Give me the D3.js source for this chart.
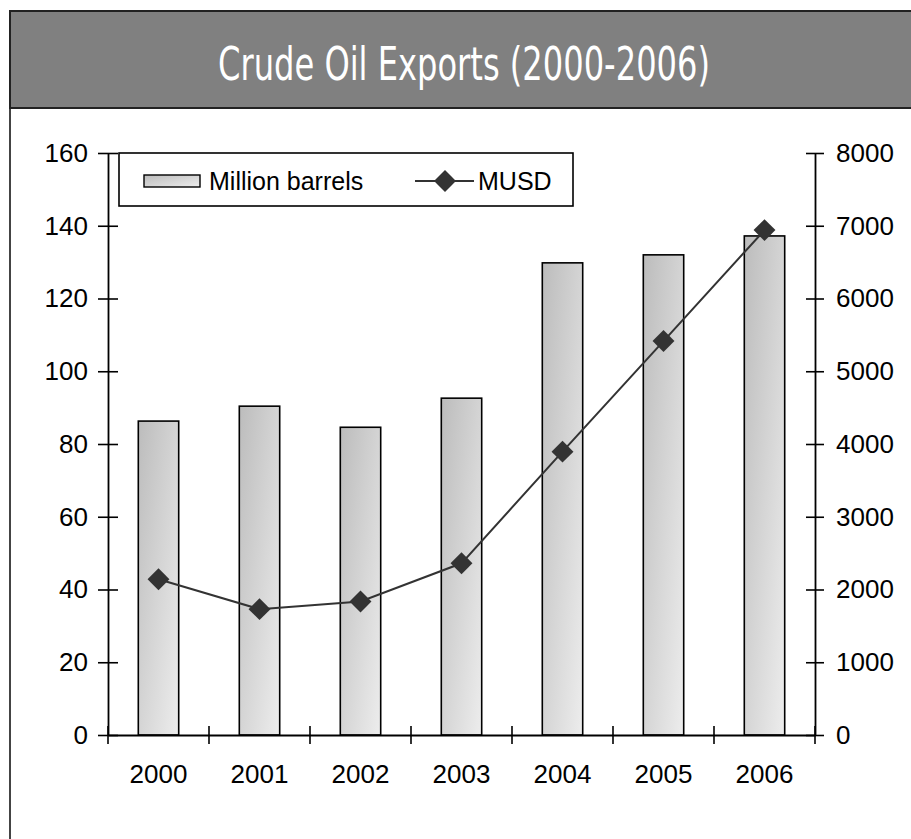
<!DOCTYPE html>
<html>
<head>
<meta charset="utf-8">
<script src="https://cdn.jsdelivr.net/npm/d3@7"></script>
<style>
  body { margin: 0; background: #fff; }
  text { font-family: "Liberation Sans", Arial, sans-serif; }
</style>
</head>
<body>
<div id="chart"></div>
<script>
// data
const years = ["2000", "2001", "2002", "2003", "2004", "2005", "2006"];
const barrels = [86.3, 90.4, 84.6, 92.6, 129.8, 132.0, 137.2];   // Million barrels, left axis
const musd = [2140, 1730, 1835, 2360, 3895, 5415, 6940];         // MUSD, right axis
const leftTicks = [0, 20, 40, 60, 80, 100, 120, 140, 160];
const rightTicks = [0, 1000, 2000, 3000, 4000, 5000, 6000, 7000, 8000];

const W = 911, H = 839;
const plot = {left: 108, right: 815, top: 153, bottom: 735};

const svg = d3.select("#chart").append("svg")
  .attr("width", W).attr("height", H);

// bar gradient
const defs = svg.append("defs");
const grad = defs.append("linearGradient").attr("id", "barGrad")
  .attr("x1", 0).attr("y1", 0).attr("x2", 1).attr("y2", 1);
grad.append("stop").attr("offset", 0).attr("stop-color", "#bcbcbc");
grad.append("stop").attr("offset", 1).attr("stop-color", "#ededed");

// frame + title bar
svg.append("rect")
  .attr("x", 10).attr("y", 11).attr("width", 930).attr("height", 860)
  .attr("fill", "#fff").attr("stroke", "#444").attr("stroke-width", 2);
svg.append("rect")
  .attr("x", 10).attr("y", 11).attr("width", 930).attr("height", 97)
  .attr("fill", "#808080").attr("stroke", "#222").attr("stroke-width", 2);
svg.append("text")
  .attr("x", 464).attr("y", 80)
  .attr("text-anchor", "middle")
  .attr("fill", "#fff")
  .style("font-family", "'Liberation Sans Narrow', 'Arial Narrow', 'DejaVu Sans Condensed', sans-serif")
  .style("font-stretch", "condensed")
  .style("font-size", "47px")
  .attr("textLength", 492).attr("lengthAdjust", "spacingAndGlyphs")
  .text("Crude Oil Exports (2000-2006)");

// scales
const x = d3.scaleBand().domain(years).range([plot.left, plot.right]);
const yL = d3.scaleLinear().domain([0, 160]).range([plot.bottom, plot.top]);
const yR = d3.scaleLinear().domain([0, 8000]).range([plot.bottom, plot.top]);
const barW = x.bandwidth() * 0.4;

// bars
svg.append("g").selectAll("rect")
  .data(years)
  .join("rect")
  .attr("x", d => x(d) + (x.bandwidth() - barW) / 2)
  .attr("y", (d, i) => yL(barrels[i]))
  .attr("width", barW)
  .attr("height", (d, i) => yL(0) - yL(barrels[i]))
  .attr("fill", "url(#barGrad)")
  .attr("stroke", "#000").attr("stroke-width", 1.6);

// axes
const fontSize = "26px";
const gL = svg.append("g").attr("transform", `translate(${plot.left},0)`)
  .call(d3.axisLeft(yL).tickValues(leftTicks).tickSizeInner(10).tickSizeOuter(0).tickPadding(10));
gL.selectAll(".tick line").attr("x1", 10);

const gR = svg.append("g").attr("transform", `translate(${plot.right},0)`)
  .call(d3.axisRight(yR).tickValues(rightTicks).tickFormat(d3.format("d"))
    .tickSizeInner(9).tickSizeOuter(0).tickPadding(12));
gR.selectAll(".tick line").attr("x1", -9);

// x axis with ticks between categories
const gX = svg.append("g").attr("transform", `translate(0,${plot.bottom})`)
  .call(d3.axisBottom(x).tickSize(0).tickSizeOuter(0).tickPadding(30));
gX.selectAll(".tick")
  .append("line")
  .attr("x1", -x.bandwidth() / 2).attr("x2", -x.bandwidth() / 2)
  .attr("y1", -9).attr("y2", 9)
  .attr("stroke", "#000").attr("stroke-width", 1.6);
gX.append("line")
  .attr("x1", plot.right).attr("x2", plot.right)
  .attr("y1", -9).attr("y2", 9)
  .attr("stroke", "#000").attr("stroke-width", 1.6);

[gL, gR, gX].forEach(g => {
  g.selectAll("path.domain").attr("stroke", "#000").attr("stroke-width", 1.8);
  g.selectAll(".tick line").attr("stroke", "#000").attr("stroke-width", 1.6);
  g.selectAll("text").style("font-size", fontSize)
    .style("font-family", "'Liberation Sans', Arial, sans-serif").attr("fill", "#000");
});

// MUSD line with diamond markers
const cx = d => x(d) + x.bandwidth() / 2;
const line = d3.line().x(d => cx(d)).y((d, i) => yR(musd[i]));
svg.append("path")
  .datum(years)
  .attr("d", line)
  .attr("fill", "none").attr("stroke", "#333").attr("stroke-width", 2);

const diamond = d3.symbol().type(d3.symbolSquare).size(240);
svg.append("g").selectAll("path")
  .data(years)
  .join("path")
  .attr("d", diamond)
  .attr("transform", (d, i) => `translate(${cx(d)},${yR(musd[i])}) rotate(45)`)
  .attr("fill", "#333");

// legend
const lg = svg.append("g");
lg.append("rect")
  .attr("x", 119).attr("y", 153).attr("width", 454).attr("height", 53)
  .attr("fill", "#fff").attr("stroke", "#000").attr("stroke-width", 1.6);
lg.append("rect")
  .attr("x", 144).attr("y", 175).attr("width", 56).attr("height", 12)
  .attr("fill", "url(#barGrad)").attr("stroke", "#000").attr("stroke-width", 1.4);
lg.append("text")
  .attr("x", 209).attr("y", 190)
  .style("font-size", "25px")
  .text("Million barrels");
lg.append("line")
  .attr("x1", 415).attr("x2", 474).attr("y1", 181).attr("y2", 181)
  .attr("stroke", "#333").attr("stroke-width", 2);
lg.append("path")
  .attr("d", diamond)
  .attr("transform", "translate(445,181) rotate(45)")
  .attr("fill", "#333");
lg.append("text")
  .attr("x", 478).attr("y", 190)
  .style("font-size", "25px")
  .text("MUSD");
</script>
</body>
</html>
